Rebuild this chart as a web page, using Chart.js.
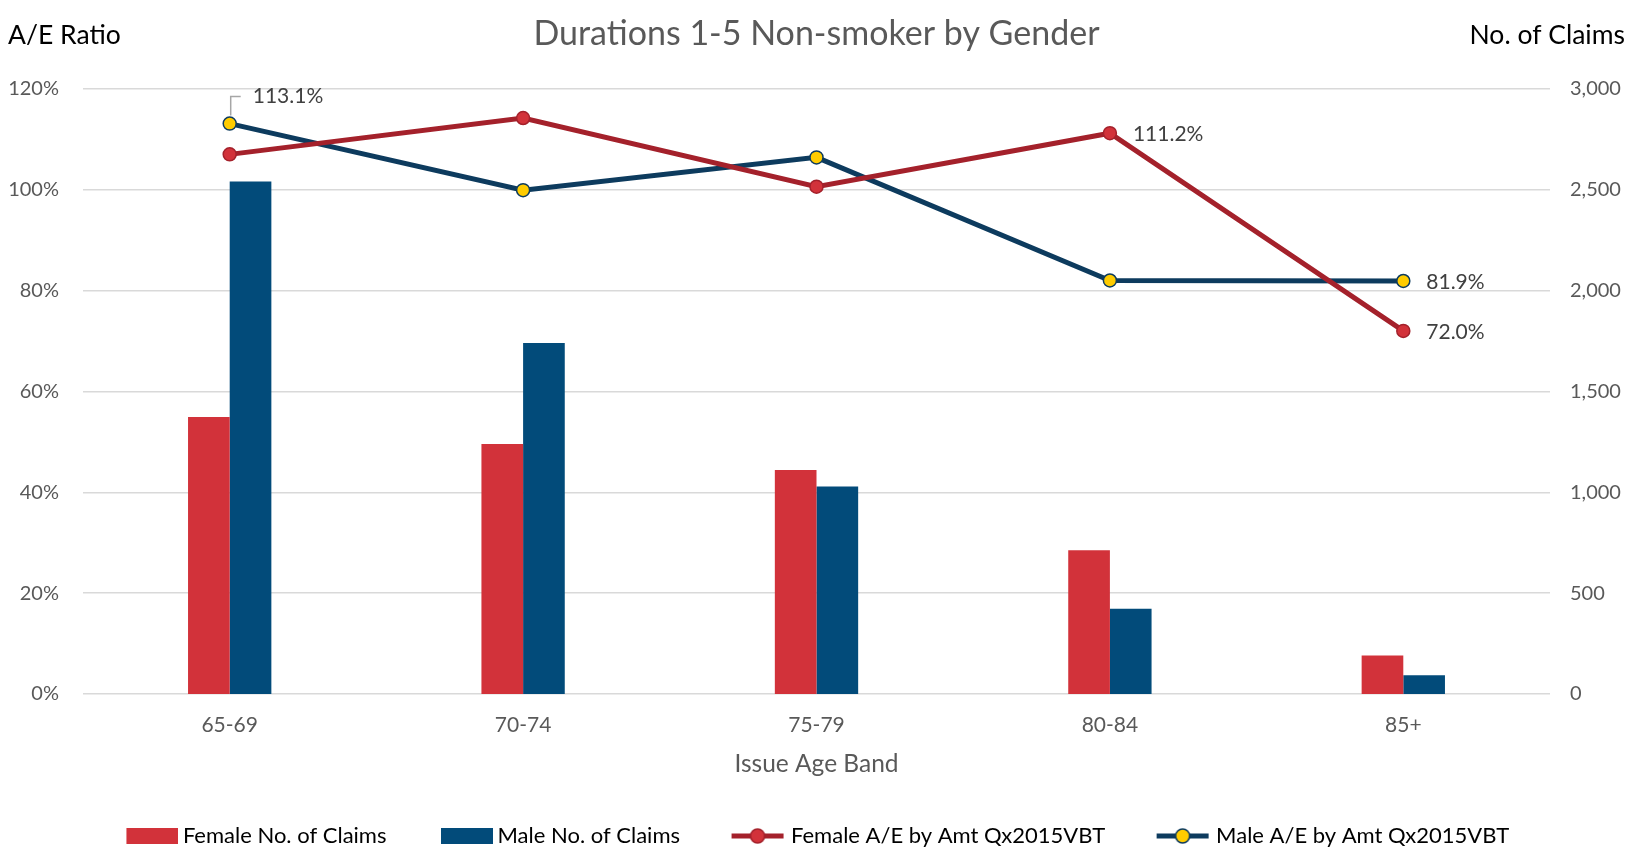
<!DOCTYPE html>
<html>
<head>
<meta charset="utf-8">
<script src="https://cdn.jsdelivr.net/npm/chart.js@4.4.1/dist/chart.umd.min.js"></script>
<style>
  html, body { margin: 0; padding: 0; background: #fff; }
  #wrap { width: 1633px; height: 852px; }
</style>
</head>
<body>
<div id="wrap"><canvas id="chart"></canvas></div>
<script>
// Data
const ageBands = ["65-69", "70-74", "75-79", "80-84", "85+"];
const femaleClaims = [1373, 1239, 1110, 713, 191];
const maleClaims = [2540, 1740, 1028, 423, 93];
const femaleAE = [1.070, 1.142, 1.006, 1.112, 0.720];
const maleAE = [1.131, 0.999, 1.064, 0.820, 0.819];

const chartTitle = "Durations 1-5 Non-smoker by Gender";
const leftAxisTitle = "A/E Ratio";
const rightAxisTitle = "No. of Claims";
const xAxisTitle = "Issue Age Band";

// [dataset index, point index, placement]
const labelledPoints = [[3, 0, "leader"], [2, 3, "right"], [3, 4, "right"], [2, 4, "right"]];

const FONT = "Lato, 'Open Sans', sans-serif";
const GREY = "#595959";
const FEMALE_BAR = "#D2323A";
const MALE_BAR = "#024B7A";
const FEMALE_LINE = "#A4212B";
const MALE_LINE = "#0D3B5E";
const MALE_POINT = "#FFCC00";

// legend swatches drawn as small canvases (box or line + marker)
function swatch(kind, fill, stroke) {
    const c = document.createElement("canvas");
    c.width = 61;
    c.height = 22;
    const g = c.getContext("2d");
    if (kind === "bar") {
        g.fillStyle = fill;
        g.fillRect(9, 3, 52, 16);
    } else {
        g.strokeStyle = stroke;
        g.lineWidth = 5;
        g.beginPath();
        g.moveTo(6, 11);
        g.lineTo(58, 11);
        g.stroke();
        g.beginPath();
        g.arc(32, 11, 7, 0, Math.PI * 2);
        g.fillStyle = fill;
        g.fill();
        g.lineWidth = 1.5;
        g.stroke();
    }
    return c;
}

const swatches = [
    swatch("bar", FEMALE_BAR),
    swatch("bar", MALE_BAR),
    swatch("line", FEMALE_BAR, FEMALE_LINE),
    swatch("line", MALE_POINT, MALE_LINE)
];

const cornerTitles = {
    id: "cornerTitles",
    afterDraw(chart) {
        const ctx = chart.ctx;
        ctx.save();
        ctx.font = "26.5px " + FONT;
        ctx.fillStyle = "#000";
        ctx.textBaseline = "middle";
        ctx.textAlign = "left";
        ctx.fillText(leftAxisTitle, 8, 35);
        ctx.textAlign = "right";
        ctx.fillText(rightAxisTitle, chart.width - 8, 35);
        ctx.restore();
    }
};

const pointLabels = {
    id: "pointLabels",
    afterDatasetsDraw(chart) {
        const ctx = chart.ctx;
        ctx.save();
        ctx.font = "21px " + FONT;
        ctx.fillStyle = "#404040";
        ctx.textBaseline = "middle";
        ctx.textAlign = "left";
        labelledPoints.forEach(([ds, i, place]) => {
            const el = chart.getDatasetMeta(ds).data[i];
            const value = chart.data.datasets[ds].data[i];
            const text = (value * 100).toFixed(1) + "%";
            if (place === "leader") {
                ctx.strokeStyle = "#A6A6A6";
                ctx.lineWidth = 1.5;
                ctx.beginPath();
                ctx.moveTo(el.x + 1, el.y - 8);
                ctx.lineTo(el.x + 1, el.y - 27);
                ctx.lineTo(el.x + 11, el.y - 27);
                ctx.stroke();
                ctx.fillText(text, el.x + 23, el.y - 27);
            } else {
                ctx.fillText(text, el.x + 23, el.y + 1);
            }
        });
        ctx.restore();
    }
};

const tickFont = { family: FONT, size: 20 };

new Chart(document.getElementById("chart"), {
    type: "bar",
    data: {
        labels: ageBands,
        datasets: [
            {
                type: "bar",
                label: "Female No. of Claims",
                data: femaleClaims,
                backgroundColor: FEMALE_BAR,
                yAxisID: "yClaims",
                categoryPercentage: 0.284,
                barPercentage: 1.0,
                order: 3
            },
            {
                type: "bar",
                label: "Male No. of Claims",
                data: maleClaims,
                backgroundColor: MALE_BAR,
                yAxisID: "yClaims",
                categoryPercentage: 0.284,
                barPercentage: 1.0,
                order: 3
            },
            {
                type: "line",
                label: "Female A/E by Amt Qx2015VBT",
                data: femaleAE,
                borderColor: FEMALE_LINE,
                backgroundColor: FEMALE_BAR,
                pointBackgroundColor: FEMALE_BAR,
                pointBorderColor: FEMALE_LINE,
                borderWidth: 5,
                pointRadius: 6.5,
                pointBorderWidth: 1.5,
                tension: 0,
                yAxisID: "yAE",
                order: 0
            },
            {
                type: "line",
                label: "Male A/E by Amt Qx2015VBT",
                data: maleAE,
                borderColor: MALE_LINE,
                backgroundColor: MALE_POINT,
                pointBackgroundColor: MALE_POINT,
                pointBorderColor: MALE_LINE,
                borderWidth: 5,
                pointRadius: 6.5,
                pointBorderWidth: 1.5,
                tension: 0,
                yAxisID: "yAE",
                order: 1
            }
        ]
    },
    options: {
        responsive: true,
        maintainAspectRatio: false,
        animation: false,
        layout: { padding: { left: 0, right: 0, top: 0, bottom: -5 } },
        plugins: {
            tooltip: { enabled: false },
            title: {
                display: true,
                text: chartTitle,
                color: GREY,
                font: { family: FONT, size: 34, weight: "normal" },
                padding: { top: 14, bottom: 34 }
            },
            legend: {
                position: "bottom",
                labels: {
                    usePointStyle: true,
                    pointStyleWidth: 48,
                    padding: 52,
                    color: GREY,
                    font: { family: FONT, size: 22 },
                    generateLabels: chart => chart.data.datasets.map((ds, i) => ({
                        text: ds.label,
                        pointStyle: swatches[i],
                        fillStyle: "transparent",
                        strokeStyle: "transparent",
                        lineWidth: 0,
                        hidden: false,
                        datasetIndex: i
                    }))
                }
            }
        },
        scales: {
            x: {
                grid: { display: false, drawTicks: false },
                border: { display: false },
                ticks: { color: GREY, font: { family: FONT, size: 21 }, padding: 19 },
                title: {
                    display: true,
                    text: xAxisTitle,
                    color: GREY,
                    font: { family: FONT, size: 24.5 },
                    padding: { top: 0, bottom: -6 }
                },
                afterFit: s => { s.height = 79; }
            },
            yAE: {
                position: "left",
                min: 0,
                max: 1.2,
                ticks: {
                    stepSize: 0.2,
                    color: GREY,
                    font: tickFont,
                    padding: 24,
                    callback: v => Math.round(v * 100) + "%"
                },
                grid: { color: "#D9D9D9", lineWidth: 1.5, drawTicks: false },
                border: { display: false },
                afterFit: s => { s.width = 83; }
            },
            yClaims: {
                position: "right",
                min: 0,
                max: 3000,
                ticks: {
                    stepSize: 500,
                    color: GREY,
                    font: tickFont,
                    padding: 20,
                    callback: v => v.toLocaleString("en-US")
                },
                grid: { display: false, drawTicks: false },
                border: { display: false },
                afterFit: s => { s.width = 83; }
            }
        }
    },
    plugins: [cornerTitles, pointLabels]
});
</script>
</body>
</html>
